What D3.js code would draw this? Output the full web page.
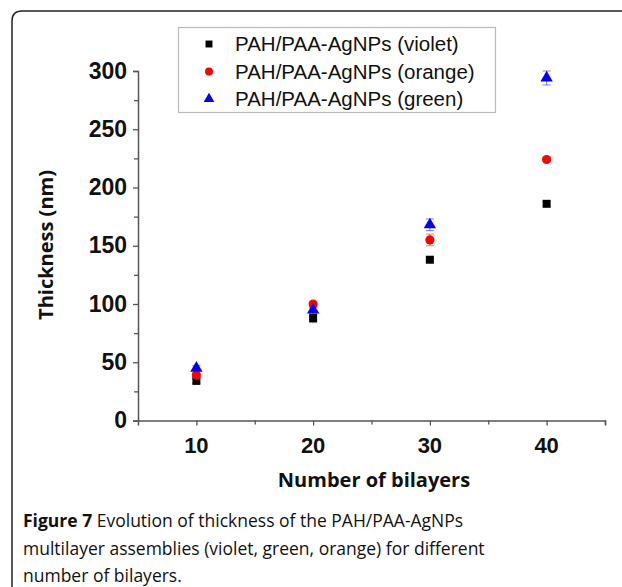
<!DOCTYPE html>
<html><head><meta charset="utf-8">
<script src="https://cdn.jsdelivr.net/npm/d3@7"></script>
<style>body{margin:0;background:#fff}svg{display:block}</style>
</head><body>
<svg id="c" width="622" height="587"></svg>
<script>
const bilayers = [10, 20, 30, 40];
const seriesNames = ["PAH/PAA-AgNPs (violet)", "PAH/PAA-AgNPs (orange)", "PAH/PAA-AgNPs (green)"];
const violet = [34, 88, 138, 186];
const orange = [39, 100, 155, 224];
const green = [45, 95, 168, 294];
const violetErr = [2, 4, 2, 2];
const orangeErr = [2, 2, 5, 2];
const greenErr = [2, 2, 5, 6];
const xTicks = [10, 20, 30, 40];
const yTicks = [0, 50, 100, 150, 200, 250, 300];
const captionBold = "Figure 7";
const captionLines = [" Evolution of thickness of the PAH/PAA-AgNPs", "multilayer assemblies (violet, green, orange) for different", "number of bilayers."];

const svg = d3.select("#c");
// frame
svg.append("path").attr("d", "M12,600 L12,21 Q12,11 22,11 L640,11")
  .attr("fill", "none").attr("stroke", "#222").attr("stroke-width", 1.5);

const x = d3.scaleLinear().domain([5, 45]).range([138, 605]);
const y = d3.scaleLinear().domain([0, 300]).range([420.5, 71]);

const axCol = "#555";
const tickFont = "Liberation Sans, Arial, sans-serif";
// x axis
const gx = svg.append("g").attr("transform", "translate(0,420.5)");
gx.call(d3.axisBottom(x).tickValues(d3.range(5, 46, 5)).tickSize(5).tickFormat(""));
gx.selectAll("line").attr("stroke", axCol).attr("stroke-width", 1.3);
gx.select(".domain").attr("stroke", axCol).attr("stroke-width", 1.5);
gx.selectAll(".tick").filter(d => d === 5).remove();
gx.selectAll(".tick").filter(d => d % 10 !== 0).select("line").attr("y2", 4);
svg.selectAll(".xlbl").data(xTicks).enter().append("text")
  .attr("x", d => x(d)).attr("y", 453).attr("text-anchor", "middle")
  .attr("font-family", tickFont).attr("font-weight", "bold").attr("fill", "#111")
  .attr("font-size", 22).text(d => d);

// y axis
const gy = svg.append("g").attr("transform", "translate(138,0)");
gy.call(d3.axisLeft(y).tickValues(d3.range(0, 301, 25)).tickSize(5).tickFormat(""));
gy.selectAll("line").attr("stroke", axCol).attr("stroke-width", 1.3);
gy.select(".domain").attr("stroke", axCol).attr("stroke-width", 1.5);
gy.selectAll(".tick").filter(d => d % 50 !== 0).select("line").attr("x2", -4);
svg.selectAll(".ylbl").data(yTicks).enter().append("text")
  .attr("x", 127).attr("y", d => y(d) + 7.5).attr("text-anchor", "end")
  .attr("font-family", tickFont).attr("font-weight", "bold").attr("fill", "#111")
  .attr("font-size", 23).text(d => d);

// titles
svg.append("text").attr("x", 374).attr("y", 487).attr("text-anchor", "middle")
  .attr("font-family", "Open Sans, sans-serif").attr("font-weight", "bold").attr("font-size", 20).attr("fill", "#111")
  .text("Number of bilayers");
svg.append("text").attr("transform", "translate(53,245) rotate(-90)").attr("text-anchor", "middle")
  .attr("font-family", "Open Sans, sans-serif").attr("font-weight", "bold").attr("font-size", 20).attr("fill", "#111")
  .text("Thickness (nm)");

// data
const series = [
  {vals: violet, err: violetErr, color: "#000", sym: d3.symbolSquare, size: 64},
  {vals: orange, err: orangeErr, color: "#ff0000", sym: d3.symbolCircle, size: 66},
  {vals: green, err: greenErr, color: "#0000ff", sym: d3.symbolTriangle, size: 66}
];
series.forEach(s => {
  const g = svg.append("g");
  bilayers.forEach((b, i) => {
    const cx = x(b), v = s.vals[i], e = s.err[i];
    g.append("line").attr("x1", cx).attr("x2", cx).attr("y1", y(v - e)).attr("y2", y(v + e))
      .attr("stroke", s.color).attr("stroke-width", 1).attr("opacity", 0.5);
    [v - e, v + e].forEach(t => g.append("line").attr("x1", cx - 4).attr("x2", cx + 4)
      .attr("y1", y(t)).attr("y2", y(t)).attr("stroke", s.color).attr("stroke-width", 1).attr("opacity", 0.5));
    g.append("path").attr("d", d3.symbol().type(s.sym).size(s.size)())
      .attr("transform", `translate(${cx},${y(v)})`).attr("fill", s.color);
  });
});

// legend
const lg = svg.append("g");
lg.append("rect").attr("x", 178.5).attr("y", 27.5).attr("width", 317).attr("height", 85)
  .attr("fill", "#fff").attr("stroke", "#bbb").attr("stroke-width", 1.2);
series.forEach((s, i) => {
  const ly = 44 + i * 27.5;
  lg.append("path").attr("d", d3.symbol().type(s.sym).size(s.size * 0.75)())
    .attr("transform", `translate(209,${ly})`).attr("fill", s.color);
  lg.append("text").attr("x", 235).attr("y", ly + 7)
    .attr("font-family", tickFont).attr("font-size", 20.5).attr("fill", "#111")
    .text(seriesNames[i]);
});

// caption
const cap = svg.append("g").attr("font-family", "Open Sans, sans-serif").attr("font-size", 17.5).attr("fill", "#111");
captionLines.forEach((ln, i) => {
  const t = cap.append("text").attr("x", 23).attr("y", 527 + i * 27.5);
  if (i === 0) t.append("tspan").attr("font-weight", "bold").text(captionBold);
  t.append("tspan").text(ln);
});
</script>
</body></html>
